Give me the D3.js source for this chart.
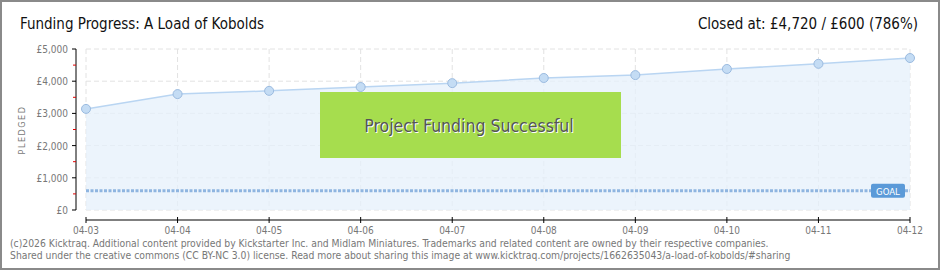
<!DOCTYPE html>
<html>
<head>
<meta charset="utf-8">
<script src="https://cdn.jsdelivr.net/npm/d3@7"></script>
<style>
  body { margin: 0; background: #fff; }
  svg text { font-family: "DejaVu Sans Condensed", "DejaVu Sans", sans-serif; }
</style>
</head>
<body>
<div id="chart"></div>
<script>
const width = 940;
const height = 270;

// data
var dates = ['04-03','04-04','04-05','04-06','04-07','04-08','04-09','04-10','04-11','04-12'];
var pledged = [3140, 3600, 3700, 3820, 3940, 4100, 4190, 4380, 4540, 4720];
var goal = 600;
var yTicks = [0, 1000, 2000, 3000, 4000, 5000];
var yMinor = [500, 1500, 2500, 3500, 4500];

var svg = d3.select("#chart").append("svg")
  .attr("width", width)
  .attr("height", height);

// frame
svg.append("rect")
  .attr("x", 1).attr("y", 1)
  .attr("width", width - 2).attr("height", height - 2)
  .attr("fill", "#fff")
  .attr("stroke", "#8a8a8a")
  .attr("stroke-width", 2);

var x = d3.scalePoint().domain(dates).range([86, 910]);
var y = d3.scaleLinear().domain([0, 5000]).range([210, 49]);

// grid
var grid = svg.append("g");
grid.selectAll("line.h")
  .data(yTicks)
  .enter().append("line")
  .attr("x1", 86).attr("x2", 910)
  .attr("y1", d => y(d)).attr("y2", d => y(d))
  .attr("stroke", "#e2e2e2")
  .attr("stroke-dasharray", "5,3");
grid.selectAll("line.v")
  .data(dates)
  .enter().append("line")
  .attr("x1", d => x(d)).attr("x2", d => x(d))
  .attr("y1", y(5000)).attr("y2", y(0))
  .attr("stroke", "#e2e2e2")
  .attr("stroke-dasharray", "5,3");

// area + line
var area = d3.area()
  .x((d, i) => x(dates[i]))
  .y0(y(0))
  .y1(d => y(d));
var line = d3.line()
  .x((d, i) => x(dates[i]))
  .y(d => y(d));

svg.append("path")
  .datum(pledged)
  .attr("d", area)
  .attr("fill", "#e6f0fb")
  .attr("fill-opacity", 0.75);

// goal line
svg.append("line")
  .attr("x1", 86).attr("x2", 910)
  .attr("y1", y(goal)).attr("y2", y(goal))
  .attr("stroke", "#8fb5e0")
  .attr("stroke-width", 3)
  .attr("stroke-dasharray", "3,1.5");

svg.append("path")
  .datum(pledged)
  .attr("d", line)
  .attr("fill", "none")
  .attr("stroke", "#b9d5f2")
  .attr("stroke-width", 1.5);

svg.selectAll("circle.pt")
  .data(pledged)
  .enter().append("circle")
  .attr("cx", (d, i) => x(dates[i]))
  .attr("cy", d => y(d))
  .attr("r", 4.5)
  .attr("fill", "#c4dcf4")
  .attr("stroke", "#9bbbe0")
  .attr("stroke-width", 1);

// goal label
svg.append("rect")
  .attr("x", 871).attr("y", y(goal) - 7)
  .attr("width", 34).attr("height", 14)
  .attr("rx", 2)
  .attr("fill", "#5b9ad8");
svg.append("text")
  .attr("x", 888).attr("y", y(goal) + 4)
  .attr("text-anchor", "middle")
  .attr("font-size", 9.5)
  .attr("fill", "#fff")
  .text("GOAL");

// y axis
var yAxis = svg.append("g").attr("transform", "translate(76,0)");
yAxis.append("line")
  .attr("x1", 0).attr("x2", 0)
  .attr("y1", y(5000)).attr("y2", y(0))
  .attr("stroke", "#000");
yAxis.selectAll("line.maj")
  .data(yTicks)
  .enter().append("line")
  .attr("x1", -4).attr("x2", 0)
  .attr("y1", d => y(d)).attr("y2", d => y(d))
  .attr("stroke", "#000");
yAxis.selectAll("line.min")
  .data(yMinor)
  .enter().append("line")
  .attr("x1", -3).attr("x2", 0)
  .attr("y1", d => y(d)).attr("y2", d => y(d))
  .attr("stroke", "#e00000");
yAxis.selectAll("text")
  .data(yTicks)
  .enter().append("text")
  .attr("x", -8)
  .attr("y", d => y(d) + 4)
  .attr("text-anchor", "end")
  .attr("font-size", 10)
  .attr("fill", "#777")
  .text(d => "£" + d3.format(",")(d));

svg.append("text")
  .attr("transform", "translate(25,130) rotate(-90)")
  .attr("text-anchor", "middle")
  .attr("font-size", 9)
  .attr("letter-spacing", 1.5)
  .attr("fill", "#777")
  .text("PLEDGED");

// x axis
var xAxis = svg.append("g").attr("transform", "translate(0,220)");
xAxis.append("line")
  .attr("x1", 86).attr("x2", 910)
  .attr("stroke", "#000");
xAxis.selectAll("line.t")
  .data(dates)
  .enter().append("line")
  .attr("x1", d => x(d)).attr("x2", d => x(d))
  .attr("y1", -3).attr("y2", 3)
  .attr("stroke", "#000");
xAxis.selectAll("text")
  .data(dates)
  .enter().append("text")
  .attr("x", d => x(d))
  .attr("y", 14)
  .attr("text-anchor", "middle")
  .attr("font-size", 10)
  .attr("fill", "#777")
  .text(d => d);

// success box
svg.append("rect")
  .attr("x", 320).attr("y", 92)
  .attr("width", 301).attr("height", 66)
  .attr("fill", "#a6dd4e");
svg.append("text")
  .attr("x", 470).attr("y", 133)
  .attr("text-anchor", "middle")
  .attr("font-size", 17.5)
  .attr("fill", "#fff")
  .text("Project Funding Successful");
svg.append("text")
  .attr("x", 469).attr("y", 132)
  .attr("text-anchor", "middle")
  .attr("font-size", 17.5)
  .attr("fill", "#555")
  .text("Project Funding Successful");

// titles
svg.append("text")
  .attr("x", 20).attr("y", 29)
  .attr("font-size", 15)
  .attr("fill", "#111")
  .text("Funding Progress: A Load of Kobolds");
svg.append("text")
  .attr("x", 918).attr("y", 29)
  .attr("text-anchor", "end")
  .attr("font-size", 15)
  .attr("fill", "#111")
  .text("Closed at:  £4,720 /  £600 (786%)");

// footer
svg.append("text")
  .attr("x", 10).attr("y", 247)
  .attr("font-size", 10.3)
  .attr("fill", "#777")
  .attr("font-family", "'DejaVu Sans', sans-serif")
  .text("(c)2026 Kicktraq. Additional content provided by Kickstarter Inc. and Midlam Miniatures. Trademarks and related content are owned by their respective companies.");
svg.append("text")
  .attr("x", 10).attr("y", 259)
  .attr("font-size", 10.3)
  .attr("fill", "#777")
  .attr("font-family", "'DejaVu Sans', sans-serif")
  .text("Shared under the creative commons (CC BY-NC 3.0) license. Read more about sharing this image at www.kicktraq.com/projects/1662635043/a-load-of-kobolds/#sharing");
</script>
</body>
</html>
